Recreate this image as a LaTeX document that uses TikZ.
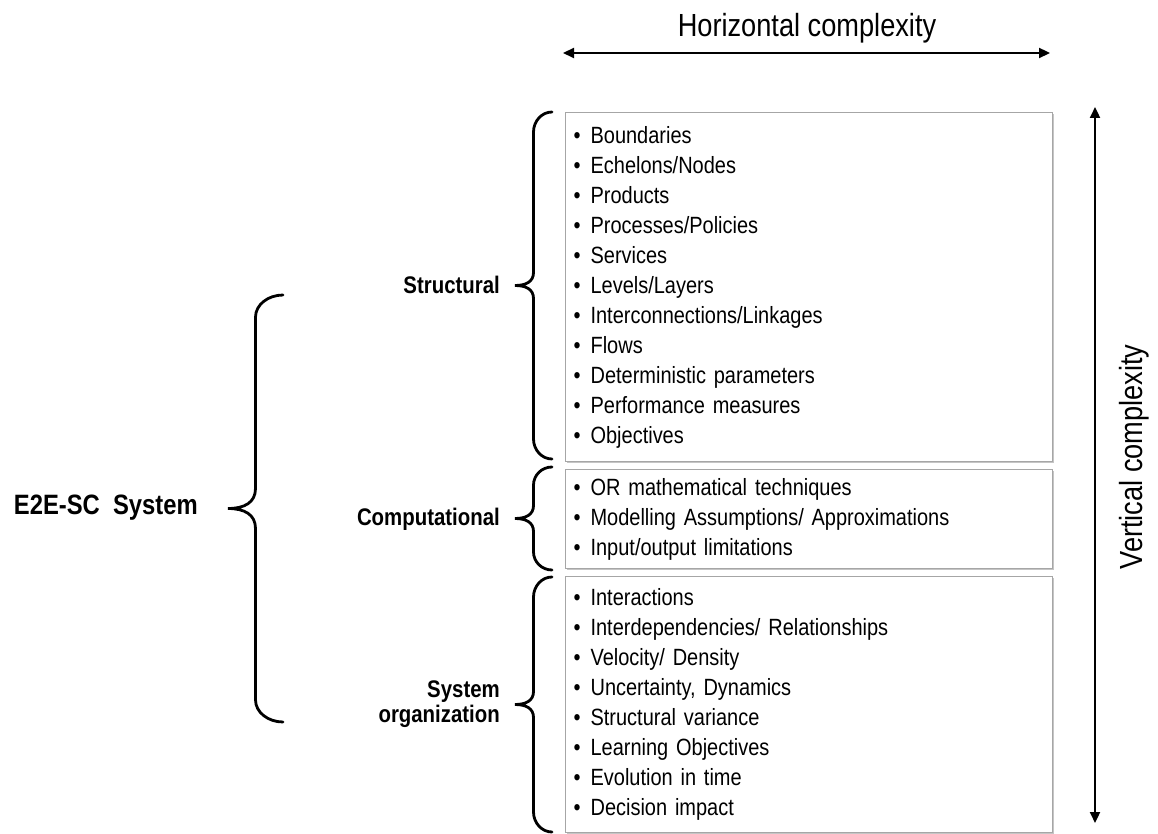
\documentclass[tikz,border=0pt]{standalone}
\usepackage{fontspec}
\setmainfont{Liberation Sans}[FakeStretch=0.85]
\usetikzlibrary{arrows.meta,shadows}

\newcommand{\itm}[1]{\makebox[17pt][l]{\textbullet}#1}
% ends at x=#1, from y=#2 to y=#3, depth #4, end hook #5, tip bend #6
\newcommand{\curlybrace}[6]{%
    \draw[curly] (#1,#2) .. controls ({#1-0.55*#4/2},#2) and ({#1-#4/2},{#2+0.45*#5}) .. ({#1-#4/2},{#2+#5})
        -- ({#1-#4/2},{(#2+#3)/2-#6}) .. controls ({#1-#4/2},{(#2+#3)/2-0.3*#6}) and ({#1-0.7*#4},{(#2+#3)/2}) .. ({#1-#4},{(#2+#3)/2})
        .. controls ({#1-0.7*#4},{(#2+#3)/2}) and ({#1-#4/2},{(#2+#3)/2+0.3*#6}) .. ({#1-#4/2},{(#2+#3)/2+#6})
        -- ({#1-#4/2},{#3-#5}) .. controls ({#1-#4/2},{#3-0.45*#5}) and ({#1-0.55*#4/2},#3) .. (#1,#3);}

\tikzset{
    listbox/.style={draw=black!35, line width=1.2pt, fill=white, anchor=north west,
        minimum width=487pt, text width=471pt, inner xsep=8pt, inner ysep=0pt, align=left,
        font=\fontsize{23.5}{30}\selectfont,
        drop shadow={shadow xshift=1.5pt, shadow yshift=-1.5pt, fill=black!45, opacity=.5}},
    grouplabel/.style={inner sep=0pt, anchor=east, align=right, font=\bfseries\fontsize{24}{25}\selectfont},
    curly/.style={line width=2.8pt, line cap=round},
    axisarrow/.style={{Triangle[length=11pt,width=10pt]}-{Triangle[length=11pt,width=10pt]}, line width=2.2pt}
}

\begin{document}
\begin{tikzpicture}[x=1pt,y=-1pt]
            \useasboundingbox (0,0) rectangle (1158,834);
            \coordinate (HL) at (563,53);
            \coordinate (HR) at (1050,53);
            \coordinate (VT) at (1095,107);
            \coordinate (VB) at (1095,823);
            \node[listbox, minimum height=349pt] (struct) at (565,112) {\itm{Boundaries}\\ \itm{Echelons/Nodes}\\ \itm{Products}\\ \itm{Processes/Policies}\\ \itm{Services}\\ \itm{Levels/Layers}\\ \itm{Interconnections/Linkages}\\ \itm{Flows}\\ \itm{Deterministic parameters}\\ \itm{Performance measures}\\ \itm{Objectives}};
            \node[listbox, minimum height=99pt] (comp) at (565,469) {\itm{OR mathematical techniques}\\ \itm{Modelling Assumptions/ Approximations}\\ \itm{Input/output limitations}};
            \node[listbox, minimum height=256pt] (sysorg) at (565,576) {\itm{Interactions}\\ \itm{Interdependencies/ Relationships}\\ \itm{Velocity/ Density}\\ \itm{Uncertainty, Dynamics}\\ \itm{Structural variance}\\ \itm{Learning Objectives}\\ \itm{Evolution in time}\\ \itm{Decision impact}};
            \node[grouplabel] (structlabel) at (500,285) {Structural};
            \node[grouplabel] (complabel) at (500,519) {Computational};
            \node[grouplabel] (sysorglabel) at (500,704) {System\\organization};
            \node[grouplabel, font=\bfseries\fontsize{28}{28}\selectfont] (system) at (198,508) {E2E-SC\ \ System};
            \curlybrace{552}{112}{459}{37}{20}{13}
            \curlybrace{552}{467}{570}{37}{18}{13}
            \curlybrace{552}{577}{832}{37}{20}{13}
            \curlybrace{283}{295}{722}{55}{22}{20}
            \draw[axisarrow] (HL) -- (HR);
            \draw[axisarrow] (VT) -- (VB);
            \node[anchor=base, inner sep=0pt, font=\fontsize{32}{32}\selectfont] (hlabel) at (807,37) {Horizontal complexity};
            \node[anchor=base, rotate=90, inner sep=0pt, font=\fontsize{32}{32}\selectfont] (vlabel) at (1142,457) {Vertical complexity};
        \end{tikzpicture}
\end{document}
